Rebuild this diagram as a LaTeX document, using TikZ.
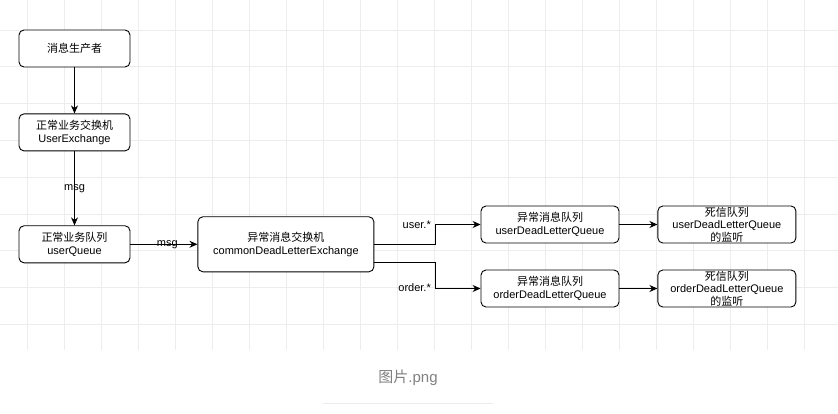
\documentclass[tikz,border=0pt]{standalone}
\usepackage{fontspec}
\setmainfont{Liberation Sans}
\newfontfamily\cjk{Noto Sans CJK SC}
\usetikzlibrary{arrows.meta,positioning}

\begin{document}
\begin{tikzpicture}[x=1pt, y=-1pt, font=\fontsize{11}{12.5}\selectfont,
  box/.style={draw, rounded corners=5pt, fill=white, align=center, line width=0.9pt, minimum width=111pt, minimum height=37pt, inner sep=1pt},
  flow/.style={-{Stealth[length=8pt,width=7pt]}, line width=0.9pt},
  lbl/.style={inner sep=1pt}]
\useasboundingbox (0,0) rectangle (838,414);
% faint grid behind the diagram
\foreach \gx in {27,64,...,838} \draw[black!7, line width=0.7pt] (\gx,0) -- (\gx,350);
\foreach \gy in {30,66.8,...,350} \draw[black!7, line width=0.7pt] (0,\gy) -- (838,\gy);

\node[box] (prod) at (74.5,48.5) {{\cjk 消息生产者}};
\node[box, below=46pt of prod] (uex) {{\cjk 正常业务交换机}\\UserExchange};
\node[box, below=74pt of uex] (uq) {{\cjk 正常业务队列}\\userQueue};
\node[box, minimum width=176pt, minimum height=55pt, right=67pt of uq] (dlx) {{\cjk 异常消息交换机}\\commonDeadLetterExchange};
\node[box, minimum width=138pt] (udlq) at (550,224.5) {{\cjk 异常消息队列}\\userDeadLetterQueue};
\node[box, minimum width=138pt, right=38pt of udlq] (ulsn) {{\cjk 死信队列}\\userDeadLetterQueue\\{\cjk 的监听}};
\node[box, minimum width=138pt] (odlq) at (550,288.5) {{\cjk 异常消息队列}\\orderDeadLetterQueue};
\node[box, minimum width=138pt, right=38pt of odlq] (olsn) {{\cjk 死信队列}\\orderDeadLetterQueue\\{\cjk 的监听}};

\draw[flow] (prod) -- (uex);
\draw[flow] (uex) -- node[lbl] {msg} (uq);
\draw[flow] (uq) -- node[lbl, pos=0.55] {msg} (dlx);
\draw[flow] (dlx.east) -- ++(61,0) |- (udlq.west);
\draw[flow] ([yshift=-18.5pt]dlx.east) -- ++(61,0) |- (odlq.west);
\node[lbl, anchor=east] (ukey) at (432,225) {user.*};
\node[lbl, anchor=east] (okey) at (432,288) {order.*};
\draw[flow] (udlq) -- (ulsn);
\draw[flow] (odlq) -- (olsn);

\node[text=black!50, font=\fontsize{15}{17}\selectfont] (cap) at (408,378) {{\cjk 图片}.png};
\draw[black!8] (323,403) -- (493,403);
\end{tikzpicture}
\end{document}
